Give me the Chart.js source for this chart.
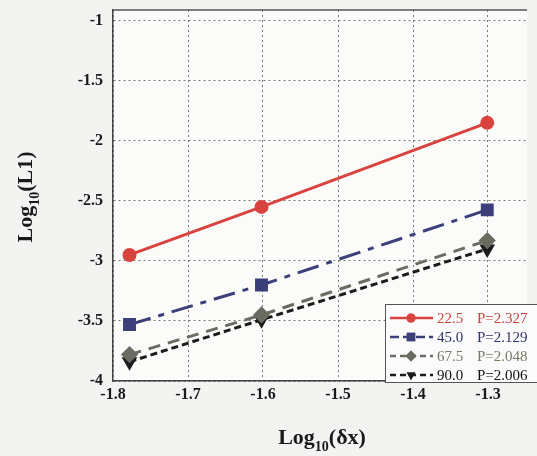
<html lang="en">
<head>
<meta charset="UTF-8">
<title>Convergence</title>
<script src="https://cdn.jsdelivr.net/npm/chart.js@4.4.0/dist/chart.umd.min.js"></script>
<style>
  body { margin: 0; background: #f3f3f1; }
  #wrap { width: 537px; height: 456px; }
</style>
</head>
<body>
<div id="wrap"><canvas id="chart" width="537" height="456"></canvas></div>
<script>
// log10 of grid spacing
const xs = [-1.778, -1.602, -1.301];
const angles = ['22.5', '45.0', '67.5', '90.0'];
const orders = ['P=2.327', 'P=2.129', 'P=2.048', 'P=2.006'];
const err225 = [-2.95, -2.55, -1.85];
const err450 = [-3.53, -3.20, -2.575];
const err675 = [-3.78, -3.45, -2.83];
const err900 = [-3.84, -3.49, -2.90];
const yTicks = [-4, -3.5, -3, -2.5, -2, -1.5, -1];
const xTicks = [-1.8, -1.7, -1.6, -1.5, -1.4, -1.3];

const serif = '"Liberation Serif", "DejaVu Serif", serif';
const colors = ['#d9433f', '#3b3f7a', '#6b6b62', '#1c1c1c'];
const textColors = ['#c8443c', '#2f3367', '#7a7a62', '#111'];

function pts(ys) { return xs.map((x, i) => ({x: x, y: ys[i]})); }

const sets = [
  {label: angles[0], data: pts(err225), borderColor: colors[0], backgroundColor: colors[0],
   borderDash: [], pointStyle: 'circle', pointRadius: 5.5, rot: 0},
  {label: angles[1], data: pts(err450), borderColor: colors[1], backgroundColor: colors[1],
   borderDash: [22, 8, 6, 8], pointStyle: 'rect', pointRadius: 7, rot: 0},
  {label: angles[2], data: pts(err675), borderColor: colors[2], backgroundColor: colors[2],
   borderDash: [12, 8], pointStyle: 'rectRot', pointRadius: 6.5, rot: 0},
  {label: angles[3], data: pts(err900), borderColor: colors[3], backgroundColor: colors[3],
   borderDash: [7, 4], pointStyle: 'triangle', pointRadius: 6, rot: 180}
].map(s => Object.assign(s, {borderWidth: 3, fill: false, pointRotation: s.rot, tension: 0}));

// titles with subscripts
const titles = {
  id: 'titles',
  afterDraw(chart) {
    const c = chart.ctx;
    c.save();
    c.fillStyle = '#1a1a1a';
    function sub(parts, x, y) {
      const big = 'bold 22px ' + serif, small = 'bold 14px ' + serif;
      c.font = big; const w1 = c.measureText(parts[0]).width;
      c.font = small; const w2 = c.measureText(parts[1]).width;
      c.font = big; const w3 = c.measureText(parts[2]).width;
      let x0 = x - (w1 + w2 + w3) / 2;
      c.textBaseline = 'alphabetic'; c.textAlign = 'left';
      c.font = big; c.fillText(parts[0], x0, y);
      c.font = small; c.fillText(parts[1], x0 + w1, y + 7);
      c.font = big; c.fillText(parts[2], x0 + w1 + w2, y);
    }
    sub(['Log', '10', '(δx)'], 322, 444);
    c.translate(32, 197);
    c.rotate(-Math.PI / 2);
    sub(['Log', '10', '(L1)'], 0, 0);
    c.restore();
  }
};

// boxed legend in lower right
const boxLegend = {
  id: 'boxLegend',
  afterDraw(chart) {
    const c = chart.ctx;
    c.save();
    c.fillStyle = '#fbfbfb';
    c.fillRect(385, 304, 160, 78);
    c.strokeStyle = '#555'; c.lineWidth = 1;
    c.strokeRect(385.5, 304.5, 160, 78);
    chart.data.datasets.forEach((ds, i) => {
      const y = 318 + i * 19;
      c.strokeStyle = ds.borderColor; c.lineWidth = 2.5;
      c.setLineDash(ds.borderDash.length ? [6, 4] : []);
      if (i === 1) c.setLineDash([9, 4]);
      c.beginPath(); c.moveTo(390, y); c.lineTo(433, y); c.stroke();
      c.setLineDash([]);
      c.fillStyle = ds.backgroundColor;
      c.beginPath();
      Chart.helpers.drawPoint(c, {pointStyle: ds.pointStyle, radius: ds.pointRadius - 1, rotation: ds.rot, borderWidth: 0}, 411, y);
      c.fill();
      c.font = '15px ' + serif; c.fillStyle = textColors[i];
      c.textBaseline = 'middle'; c.textAlign = 'left';
      c.fillText(ds.label, 437, y + 1);
      c.fillText(orders[i], 477, y + 1);
    });
    c.restore();
  }
};

const areaBg = {
  id: 'areaBg',
  beforeDraw(chart) {
    const a = chart.chartArea, c = chart.ctx;
    c.save(); c.fillStyle = '#fbfbfa';
    c.fillRect(a.left, a.top, a.right - a.left, a.bottom - a.top);
    c.restore();
  },
  afterDatasetsDraw(chart) {
    const a = chart.chartArea, c = chart.ctx;
    c.save(); c.strokeStyle = '#555'; c.lineWidth = 1.5;
    c.beginPath(); c.moveTo(a.left, a.top); c.lineTo(a.right, a.top); c.stroke();
    c.restore();
  }
};

new Chart(document.getElementById('chart'), {
  type: 'line',
  data: {datasets: sets},
  plugins: [areaBg, titles, boxLegend],
  options: {
    responsive: false,
    animation: false,
    layout: {padding: {top: 10, right: 0, left: 0, bottom: 0}},
    plugins: {legend: {display: false}, tooltip: {enabled: false}},
    scales: {
      x: {
        type: 'linear', min: -1.8, max: -1.248,
        afterBuildTicks: s => { s.ticks = xTicks.map(v => ({value: v})); },
        afterFit: s => { s.height = 75; s.paddingLeft = 0; s.paddingRight = 0; },
        grid: {color: '#7a7a7a', lineWidth: 1, drawTicks: false},
        border: {display: true, color: '#444', width: 1.5, dash: [2, 3]},
        ticks: {font: {family: serif, size: 16, weight: 'bold'}, color: '#1a1a1a', padding: 4,
          maxRotation: 0, callback: v => v.toFixed(1)}
      },
      y: {
        type: 'linear', min: -4, max: -0.91,
        afterBuildTicks: s => { s.ticks = yTicks.map(v => ({value: v})); },
        afterFit: s => { s.width = 113; s.paddingTop = 0; s.paddingBottom = 0; },
        grid: {color: '#7a7a7a', lineWidth: 1, drawTicks: false},
        border: {display: true, color: '#444', width: 1.5, dash: [2, 3]},
        ticks: {font: {family: serif, size: 16, weight: 'bold'}, color: '#1a1a1a', padding: 10,
          callback: v => (v === -4 || v === -3 || v === -2 || v === -1) ? String(v) : v.toFixed(1)}
      }
    }
  }
});
</script>
</body>
</html>
